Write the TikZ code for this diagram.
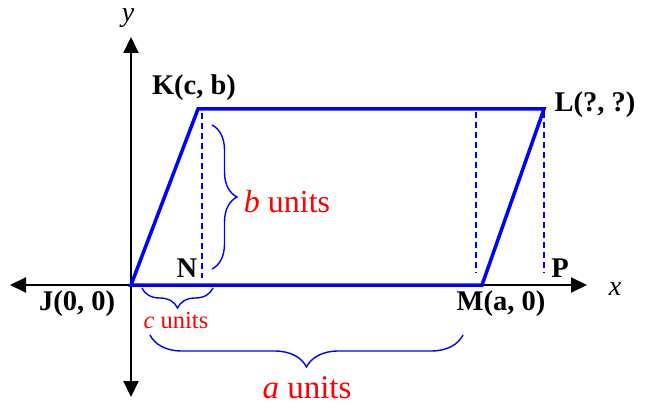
\documentclass[tikz,border=0pt]{standalone}
\usepackage{fontspec}
\setmainfont{Liberation Serif}
\usetikzlibrary{arrows.meta,decorations.pathreplacing}
\begin{document}
\begin{tikzpicture}[x=1pt,y=-1pt,
  axisline/.style={line width=2pt,{Triangle[length=16pt,width=15pt]}-{Triangle[length=16pt,width=15pt]}},
  para/.style={draw=blue,line width=3.5pt,line join=miter},
  guide/.style={blue,line width=1.3pt,dash pattern=on 6pt off 4pt},
  br/.style={blue,line width=1.4pt,decorate,decoration={brace,amplitude=#1}},
  lbl/.style={font=\fontsize{28.5}{32}\selectfont\bfseries,inner sep=0pt},
  axlbl/.style={font=\fontsize{28}{32}\selectfont\itshape,inner sep=0pt},
  unitlbl/.style={red,inner sep=0pt}
]
\useasboundingbox (0,0) rectangle (648,406);
% axes
\coordinate (xl) at (10,285);
\coordinate (xr) at (587,285);
\coordinate (yt) at (131,37);
\coordinate (yb) at (131,397);
\draw[axisline] (xl) -- (xr);
\draw[axisline] (yb) -- (yt);
% vertices
\coordinate (J) at (131,285);
\coordinate (K) at (198,109);
\coordinate (L) at (544,109);
\coordinate (M) at (482,285);
% dashed guides
\coordinate (d1t) at (202,113); \coordinate (d1b) at (202,278);
\coordinate (d2t) at (476,112); \coordinate (d2b) at (476,273);
\coordinate (d3t) at (544,112); \coordinate (d3b) at (544,273);
\draw[guide] (d1t) -- (d1b);
\draw[guide] (d2t) -- (d2b);
\draw[guide] (d3t) -- (d3b);
% parallelogram
\draw[para] (J) -- (K) -- (L) -- (M) -- cycle;
% braces
\coordinate (bt) at (212,125); \coordinate (bb) at (212,269);
\coordinate (cr) at (213,288); \coordinate (cl) at (142,288);
\coordinate (ar) at (463,335); \coordinate (al) at (150,335);
\draw[br=25pt] (bt) -- (bb);
\draw[br=20pt] (cr) -- (cl);
\draw[br=32pt] (ar) -- (al);
% labels
\node[lbl] (Klbl) at (194,88) {K(c, b)};
\node[lbl] (Llbl) at (595,105) {L(?, ?)};
\node[lbl] (Mlbl) at (501,304) {M(a, 0)};
\node[lbl] (Jlbl) at (77,304) {J(0, 0)};
\node[lbl] (Nlbl) at (187,268) {N};
\node[lbl] (Plbl) at (560,268) {P};
\node[axlbl] (xlbl) at (615,289) {x};
\node[axlbl] (ylbl) at (128,18) {y};
\node[unitlbl,font=\fontsize{32}{36}\selectfont] (bu) at (287,202) {\textit{b} units};
\node[unitlbl,font=\fontsize{24.5}{28}\selectfont] (cu) at (176,321) {\textit{c} units};
\node[unitlbl,font=\fontsize{33}{37}\selectfont] (au) at (307,388) {\textit{a} units};
\end{tikzpicture}
\end{document}
